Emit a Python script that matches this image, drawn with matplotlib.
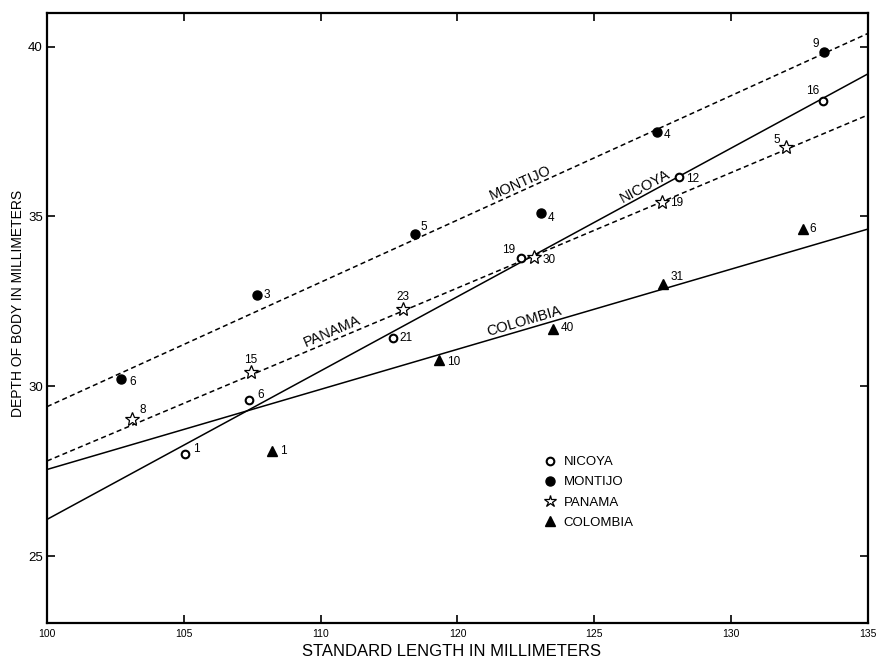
import matplotlib
matplotlib.use("Agg")
import matplotlib.pyplot as plt
from matplotlib.lines import Line2D
import numpy as np

plt.rcParams['font.family'] = ['Liberation Sans', 'DejaVu Sans']

# x values are in the printed axis units (ticks evenly spaced, labelled as printed)
x_tick_labels = ['100', '105', '110', '120', '125', '130', '135']
y_ticks = [25, 30, 35, 40]

# Nicoya (open circles)
nicoya_x = [105.04, 107.38, 112.63, 117.32, 123.10, 128.34]
nicoya_y = [28.02, 29.59, 31.41, 33.77, 36.15, 38.40]
nicoya_n = ['1', '6', '21', '19', '12', '16']

# Montijo (filled circles)
montijo_x = [102.69, 107.66, 113.43, 118.05, 122.28, 128.38]
montijo_y = [30.20, 32.69, 34.48, 35.09, 37.48, 39.84]
montijo_n = ['6', '3', '5', '4', '4', '9']

# Panama (stars)
panama_x = [103.12, 107.45, 113.00, 117.80, 122.46, 127.00]
panama_y = [29.05, 30.41, 32.27, 33.81, 35.43, 37.05]
panama_n = ['8', '15', '23', '30', '19', '5']

# Colombia (triangles)
colombia_x = [108.21, 114.33, 118.50, 122.52, 127.61]
colombia_y = [28.10, 30.77, 31.68, 33.01, 34.63]
colombia_n = ['1', '10', '40', '31', '6']

# regression lines: value at left and right axis edge
line_x = [100, 130]
montijo_line = [29.40, 40.39]
panama_line = [27.80, 37.99]
nicoya_line = [26.08, 39.20]
colombia_line = [27.55, 34.63]

# ---- styling / layout (not data) ----
nicoya_off = [(6, 3, 'left'), (6, 4, 'left'), (5, 0, 'left'), (-4, 6, 'right'), (5, -1, 'left'), (-2, 7, 'right')]
montijo_off = [(6, -2, 'left'), (5, 0, 'left'), (4, 5, 'left'), (5, -3, 'left'), (5, -2, 'left'), (-3, 6, 'right')]
panama_off = [(5, 6, 'left'), (0, 9, 'center'), (0, 9, 'center'), (6, -2, 'left'), (6, -1, 'left'), (-4, 5, 'right')]
colombia_off = [(6, 0, 'left'), (6, -1, 'left'), (5, 1, 'left'), (5, 5, 'left'), (5, 0, 'left')]

fig = plt.figure(figsize=(8.78, 6.6), dpi=100)
ax = fig.add_axes([0.05353, 0.05606, 0.93508, 0.92470])

dash = (3.3, 2.2)
lw = 1.1
ax.plot(line_x, montijo_line, color='black', lw=lw, linestyle=(0, dash))
ax.plot(line_x, panama_line, color='black', lw=lw, linestyle=(0, dash))
ax.plot(line_x, nicoya_line, color='black', lw=lw)
ax.plot(line_x, colombia_line, color='black', lw=lw)

ms_kw = dict(linestyle='none', color='black', zorder=3)
ax.plot(nicoya_x, nicoya_y, marker='o', ms=5.5, mfc='white', mec='black', mew=1.5, **ms_kw)
ax.plot(montijo_x, montijo_y, marker='o', ms=6.5, mfc='black', mec='black', **ms_kw)
ax.plot(panama_x, panama_y, marker='*', ms=10, mfc='white', mec='black', mew=0.9, **ms_kw)
ax.plot(colombia_x, colombia_y, marker='^', ms=7, mfc='black', mec='black', **ms_kw)

def label_points(xs, ys, ns, offs):
    for x, y, n, (dx, dy, ha) in zip(xs, ys, ns, offs):
        ax.annotate(n, (x, y), xytext=(dx, dy), textcoords='offset points',
                    ha=ha, va='center', fontsize=8.5)

label_points(nicoya_x, nicoya_y, nicoya_n, nicoya_off)
label_points(montijo_x, montijo_y, montijo_n, montijo_off)
label_points(panama_x, panama_y, panama_n, panama_off)
label_points(colombia_x, colombia_y, colombia_n, colombia_off)

# line labels
ax.text(117.31, 35.98, 'MONTIJO', rotation=24.0, ha='center', va='center', fontsize=10.5)
ax.text(121.85, 35.88, 'NICOYA', rotation=28.5, ha='center', va='center', fontsize=10.5)
ax.text(110.40, 31.63, 'PANAMA', rotation=23.2, ha='center', va='center', fontsize=10.5)
ax.text(117.43, 31.90, 'COLOMBIA', rotation=16.4, ha='center', va='center', fontsize=10.5)

ax.set_xlim(100, 130)
ax.set_ylim(23.03, 41.0)
ax.set_xticks(np.linspace(100, 130, len(x_tick_labels)))
ax.set_xticklabels(x_tick_labels, fontsize=7.5)
ax.set_yticks(y_ticks)
ax.set_yticklabels([str(v) for v in y_ticks], fontsize=9.5)
ax.tick_params(direction='in', length=6, width=1.2, top=True, right=True,
               labeltop=False, labelright=False)
ax.tick_params(axis='x', pad=4)
ax.tick_params(axis='y', pad=3)
for s in ax.spines.values():
    s.set_linewidth(1.6)

ax.set_xlabel('STANDARD LENGTH IN MILLIMETERS', fontsize=12)
ax.xaxis.set_label_coords(0.4928, -0.034)
ax.set_ylabel('DEPTH OF BODY IN MILLIMETERS', fontsize=10)
ax.yaxis.set_label_coords(-0.0268, 0.524)

handles = [
    Line2D([], [], marker='o', ms=5.5, mfc='white', mec='black', mew=1.5, linestyle='none'),
    Line2D([], [], marker='o', ms=6.5, mfc='black', mec='black', linestyle='none'),
    Line2D([], [], marker='*', ms=9, mfc='white', mec='black', mew=0.9, linestyle='none'),
    Line2D([], [], marker='^', ms=7, mfc='black', mec='black', linestyle='none'),
]
ax.legend(handles, ['NICOYA', 'MONTIJO', 'PANAMA', 'COLOMBIA'], frameon=False,
          loc='upper left', bbox_to_anchor=(0.6066, 0.2737), borderaxespad=0,
          borderpad=0, handlelength=0.8, handletextpad=0.6, labelspacing=0.6,
          fontsize=9.5)

fig.savefig('out.png', dpi=100, facecolor='white')
